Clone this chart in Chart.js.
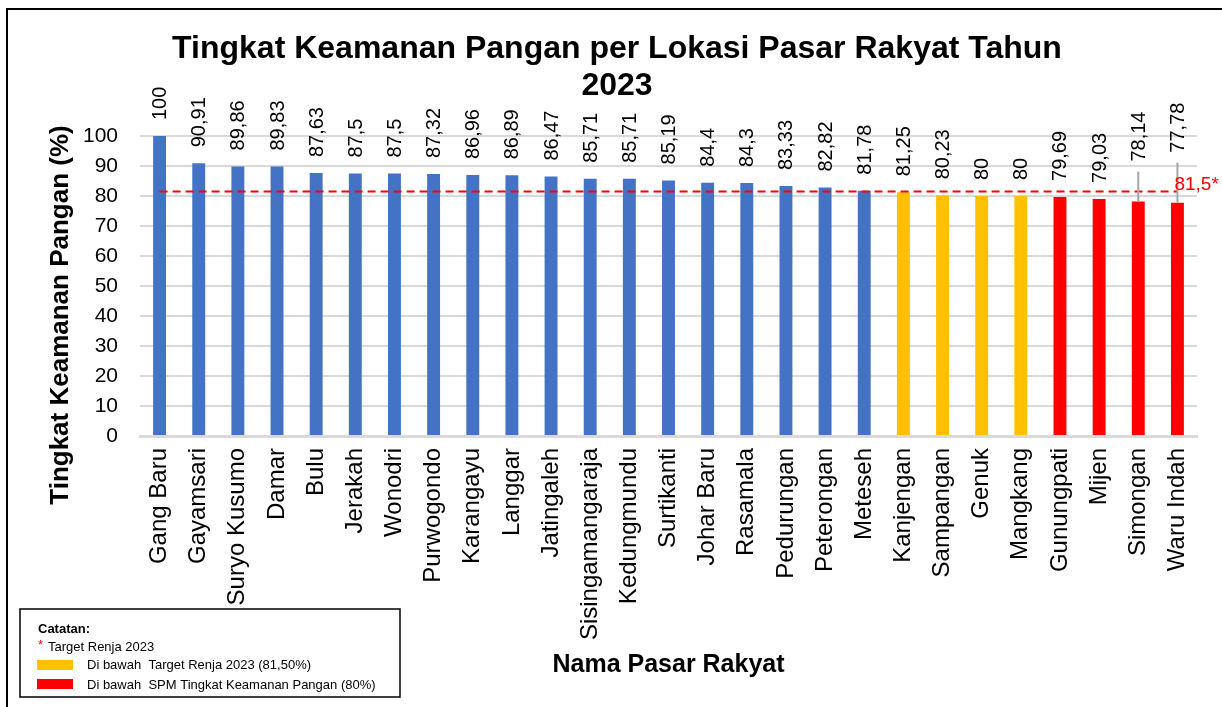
<!DOCTYPE html>
<html>
<head>
<meta charset="utf-8">
<script src="https://cdn.jsdelivr.net/npm/chart.js@4/dist/chart.umd.min.js"></script>
<style>
  body { margin: 0; background: #fff; }
  canvas { display: block; }
</style>
</head>
<body>
<canvas id="pasarChart" width="1222" height="707"></canvas>
<script>
// Data
var pasarLabels = ['Gang Baru', 'Gayamsari', 'Suryo Kusumo', 'Damar', 'Bulu', 'Jerakah', 'Wonodri',
    'Purwogondo', 'Karangayu', 'Langgar', 'Jatingaleh', 'Sisingamangaraja', 'Kedungmundu', 'Surtikanti',
    'Johar Baru', 'Rasamala', 'Pedurungan', 'Peterongan', 'Meteseh', 'Kanjengan', 'Sampangan', 'Genuk',
    'Mangkang', 'Gunungpati', 'Mijen', 'Simongan', 'Waru Indah'];
var keamananValues = [100, 90.91, 89.86, 89.83, 87.63, 87.5, 87.5, 87.32, 86.96, 86.89, 86.47, 85.71, 85.71,
    85.19, 84.4, 84.3, 83.33, 82.82, 81.78, 81.25, 80.23, 80, 80, 79.69, 79.03, 78.14, 77.78];
var yTicks = [0, 10, 20, 30, 40, 50, 60, 70, 80, 90, 100];
var targetRenja = 81.5;
var spmTarget = 80;

var FONT = '"Liberation Sans", Arial, sans-serif';
var BLUE = '#4472C4', YELLOW = '#FFC000', RED = '#FF0000';

var barColors = keamananValues.map(function (v) {
    if (v >= targetRenja) return BLUE;
    if (v >= spmTarget) return YELLOW;
    return RED;
});

function fmt(v) {
    return String(v).replace('.', ',');
}

// labels lifted above the target line get a leader line
var liftedLabels = { 25: 24, 26: 34 };

var decorPlugin = {
    id: 'decor',
    afterDatasetsDraw: function (chart) {
        var ctx = chart.ctx;
        var bars = chart.getDatasetMeta(0).data;
        ctx.save();
        ctx.font = '20px ' + FONT;
        ctx.fillStyle = '#000';
        ctx.textAlign = 'left';
        ctx.textBaseline = 'middle';
        bars.forEach(function (bar, i) {
            var lift = liftedLabels[i] || 0;
            var yStart = bar.y - 16 - lift;
            if (lift) {
                ctx.strokeStyle = '#A6A6A6';
                ctx.lineWidth = 2;
                ctx.beginPath();
                ctx.moveTo(bar.x, yStart + 10);
                ctx.lineTo(bar.x, bar.y);
                ctx.stroke();
            }
            ctx.save();
            ctx.translate(bar.x, yStart);
            ctx.rotate(-Math.PI / 2);
            ctx.fillText(fmt(keamananValues[i]), 0, 1);
            ctx.restore();
        });

        // target label
        var pts = chart.getDatasetMeta(1).data;
        var last = pts[pts.length - 1];
        ctx.fillStyle = RED;
        ctx.font = '19px ' + FONT;
        ctx.fillText(fmt(targetRenja) + '*', last.x - 3, last.y - 7);
        ctx.restore();
    },
    afterDraw: function (chart) {
        var ctx = chart.ctx;
        ctx.save();
        // frame
        ctx.strokeStyle = '#000';
        ctx.lineWidth = 2;
        ctx.strokeRect(7, 9, 1300, 800);

        // title
        ctx.fillStyle = '#000';
        ctx.textAlign = 'center';
        ctx.textBaseline = 'alphabetic';
        ctx.font = 'bold 32px ' + FONT;
        ctx.fillText('Tingkat Keamanan Pangan per Lokasi Pasar Rakyat Tahun', 617, 58);
        ctx.fillText('2023', 617, 95);

        // y axis title
        ctx.save();
        ctx.translate(61, 315);
        ctx.rotate(-Math.PI / 2);
        ctx.textBaseline = 'middle';
        ctx.font = 'bold 26px ' + FONT;
        ctx.fillText('Tingkat Keamanan Pangan (%)', 0, 0);
        ctx.restore();

        // catatan box
        ctx.fillStyle = '#fff';
        ctx.fillRect(20, 609, 380, 88);
        ctx.lineWidth = 1.5;
        ctx.strokeStyle = '#000';
        ctx.strokeRect(20, 609, 380, 88);
        ctx.textAlign = 'left';
        ctx.textBaseline = 'middle';
        ctx.fillStyle = '#000';
        ctx.font = 'bold 13px ' + FONT;
        ctx.fillText('Catatan:', 38, 629);
        ctx.font = '13px ' + FONT;
        ctx.fillStyle = RED;
        ctx.fillText('*', 38, 645);
        ctx.fillStyle = '#000';
        ctx.fillText('Target Renja 2023', 48, 647);
        ctx.fillStyle = YELLOW;
        ctx.fillRect(37, 660, 36, 10);
        ctx.fillStyle = RED;
        ctx.fillRect(37, 679, 36, 10);
        ctx.fillStyle = '#000';
        ctx.fillText('Di bawah  Target Renja 2023 (81,50%)', 87, 665);
        ctx.fillText('Di bawah  SPM Tingkat Keamanan Pangan (80%)', 87, 685);
        ctx.restore();
    }
};

var ctx = document.getElementById('pasarChart');

var chartData = {
    labels: pasarLabels,
    datasets: [{
        type: 'bar',
        label: 'Tingkat Keamanan Pangan',
        data: keamananValues,
        backgroundColor: barColors,
        barPercentage: 0.33,
        categoryPercentage: 1,
        order: 1
    }, {
        type: 'line',
        label: 'Target Renja 2023',
        data: pasarLabels.map(function () { return targetRenja; }),
        borderColor: RED,
        borderWidth: 2,
        borderDash: [8, 5],
        pointRadius: 0,
        fill: false,
        order: 0
    }]
};

var chartOptions = {
    responsive: false,
    animation: false,
    devicePixelRatio: 1,
    layout: { padding: { top: 136, right: 25, left: 0, bottom: 0 } },
    plugins: {
        legend: { display: false },
        title: { display: false },
        tooltip: { enabled: false }
    },
    scales: {
        x: {
            grid: { display: false, drawTicks: false },
            border: { display: true, color: '#D9D9D9', width: 3 },
            ticks: {
                autoSkip: false,
                maxRotation: 90,
                minRotation: 90,
                padding: 12,
                color: '#000',
                font: { family: FONT, size: 24 }
            },
            title: {
                display: true,
                text: 'Nama Pasar Rakyat',
                color: '#000',
                font: { family: FONT, size: 25, weight: 'bold' },
                padding: { top: 0, bottom: 27 }
            },
            afterFit: function (scale) { scale.height = 271; }
        },
        y: {
            min: 0,
            max: 100,
            border: { display: false },
            grid: { color: '#D9D9D9', lineWidth: 2, drawTicks: false },
            afterBuildTicks: function (scale) {
                scale.ticks = yTicks.map(function (v) { return { value: v }; });
            },
            ticks: {
                padding: 22,
                color: '#000',
                font: { family: FONT, size: 21 }
            },
            afterFit: function (scale) { scale.width = 140; }
        }
    }
};

var pasarChart = new Chart(ctx, {
    type: 'bar',
    data: chartData,
    options: chartOptions,
    plugins: [decorPlugin]
});
</script>
</body>
</html>
